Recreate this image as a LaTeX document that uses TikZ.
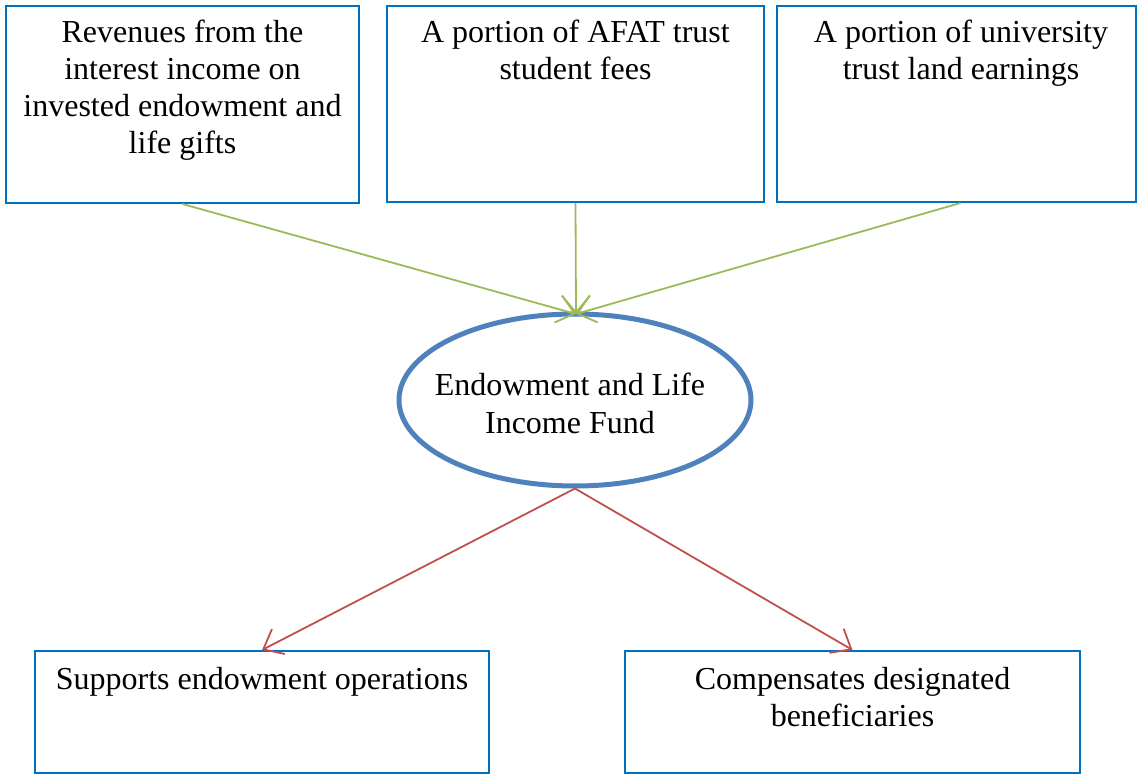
\documentclass[tikz,border=0pt]{standalone}
\usepackage{fontspec}
\setmainfont{Liberation Serif}
\usetikzlibrary{arrows.meta,shapes.geometric}
\definecolor{boxblue}{RGB}{0,112,192}
\definecolor{ellblue}{RGB}{79,129,189}
\definecolor{arrgreen}{RGB}{155,187,89}
\definecolor{arrred}{RGB}{192,80,77}
\begin{document}
\begin{tikzpicture}[x=1pt,y=-1pt,
  box/.style={draw=boxblue,line width=2pt,rectangle,inner sep=0pt},
  txt/.style={align=center,inner sep=0pt,anchor=base,font=\fontsize{32}{37}\selectfont},
  fund/.style={draw=ellblue,line width=5pt,ellipse,inner sep=0pt,minimum width=352pt,minimum height=172pt},
  garrow/.style={draw=arrgreen,line width=1.8pt,-{Straight Barb[length=17pt,width=28pt]}},
  rarrow/.style={draw=arrred,line width=1.8pt,-{Straight Barb[length=17pt,width=28pt]}}]
\useasboundingbox (0,0) rectangle (1138,775);
% top boxes
\node[box,minimum width=353pt,minimum height=197pt] (b1) at (182.5,104.5) {};
\node[box,minimum width=377pt,minimum height=196pt] (b2) at (575.5,104) {};
\node[box,minimum width=359pt,minimum height=196pt] (b3) at (956.5,104) {};
\node[txt] (t1) at (182.5,154) {Revenues from the\\interest income on\\invested endowment and\\life gifts};
\node[txt] (t2) at (575.5,80) {A portion of AFAT trust\\student fees};
\node[txt] (t3) at (961,80) {A portion of university\\trust land earnings};
% ellipse
\node[fund] (f) at (575,400) {};
\node[txt] (tf) at (570,433) {Endowment and Life\\Income Fund};
% bottom boxes
\node[box,minimum width=454pt,minimum height=122pt] (b4) at (262,712) {};
\node[box,minimum width=455pt,minimum height=122pt] (b5) at (852.5,712) {};
\node[txt] (t4) at (262,689) {Supports endowment operations};
\node[txt] (t5) at (852.5,726) {Compensates designated\\beneficiaries};
% connectors
\coordinate (ftop) at (576,314);
\draw[garrow] (b1.south) -- (ftop);
\draw[garrow] (b2.south) -- (ftop);
\draw[garrow] ([xshift=4pt]b3.south) -- (ftop);
\draw[rarrow] (f.south) -- (b4.north);
\draw[rarrow] (f.south) -- (b5.north);
\end{tikzpicture}
\end{document}
